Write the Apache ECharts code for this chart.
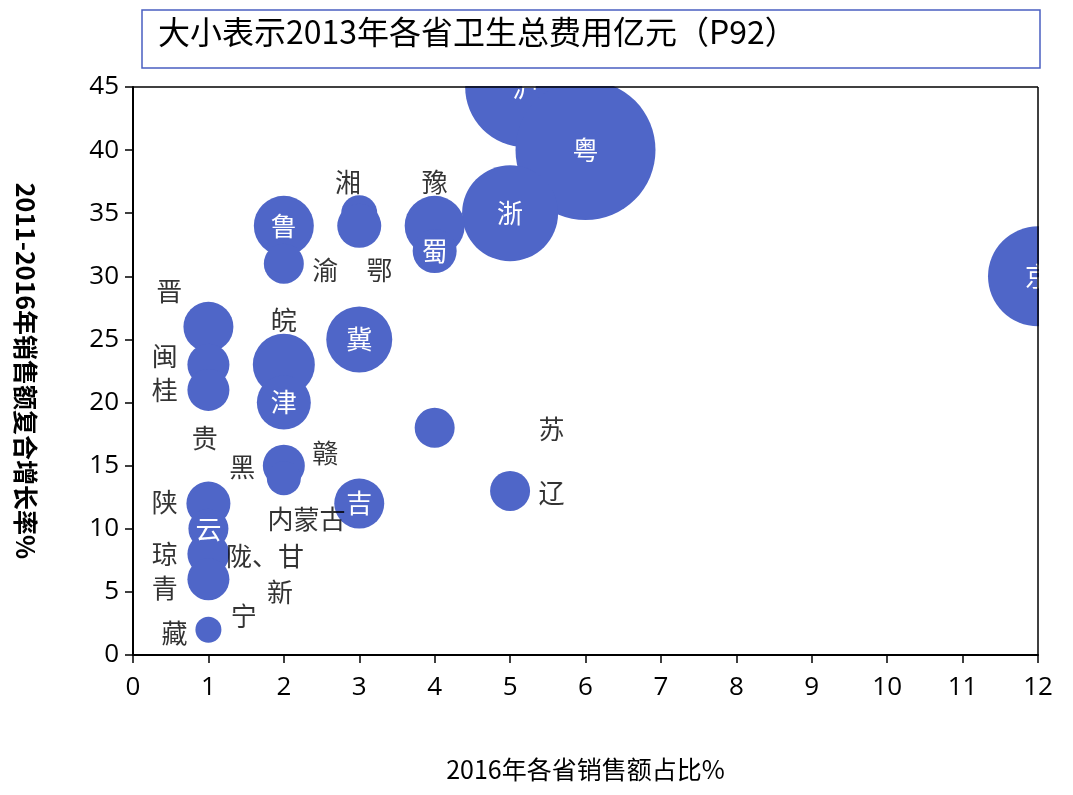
<!DOCTYPE html><html><head><meta charset="utf-8"><script src="https://cdn.jsdelivr.net/npm/echarts@6/dist/echarts.min.js"></script></head><body style="margin:0;background:#fff"><div id="c" style="width:1073px;height:795px"></div><script>
const names=['沪','粤','浙','京','鲁','湘','鄂','豫','蜀','渝','晋','闽','桂','皖','津','冀','苏','辽','赣','黑','吉','陕','云','琼','青','藏'];
const xs=[5.2,6,5,12,2,3,3,4,4,2,1,1,1,2,2,3,4,5,2,2,3,1,1,1,1,1];
const ys=[45,40,35,30,34,35,34,34,32,31,26,23,21,23,20,25,18,13,15,14,12,12,10,8,6,2];
const sizes=[120,140,96,100,60,36,44,60,44,40,50,42,42,62,54,66,40,40,42,34,50,44,40,42,42,26];
const inner=['沪','粤','浙','京','鲁','蜀','冀','津','吉','云'];
const notes=[['湘',2.85,37.5],['豫',4,37.5],['渝',2.55,30.5],['鄂',3.27,30.5],['晋',0.48,28.8],['皖',2,26.5],['闽',0.42,23.7],['桂',0.42,21],['贵',0.95,17.2],['黑',1.45,14.9],['赣',2.55,16],['苏',5.55,17.9],['辽',5.55,12.8],['陕',0.42,12.1],['内蒙古',2.3,10.8],['琼',0.42,8],['陇、甘',1.75,7.8],['青',0.42,5.3],['新',1.95,5],['宁',1.47,3.1],['藏',0.55,1.7]];
const blue='#4f66c8';
const font='Noto Sans CJK SC';
const chart=echarts.init(document.getElementById('c'));
chart.setOption({
 textStyle:{fontFamily:font},
 graphic:[
  {type:'rect',z:10,shape:{x:134,y:0,width:939,height:86},style:{fill:'#fff'}},
  {type:'rect',z:10,shape:{x:1039,y:0,width:40,height:654},style:{fill:'#fff'}},
  {type:'line',z:11,shape:{x1:133,y1:87,x2:1038,y2:87},style:{stroke:'#000',lineWidth:1.5}},
  {type:'line',z:11,shape:{x1:1038,y1:87,x2:1038,y2:655},style:{stroke:'#000',lineWidth:1.5}},
  {type:'rect',z:11,shape:{x:142,y:10,width:898,height:58},style:{fill:'#fff',stroke:'#4a5fc1',lineWidth:1.5}},
  {type:'text',z:12,left:158,top:16,style:{text:'大小表示2013年各省卫生总费用亿元（P92）',font:'32px "Noto Sans CJK SC"',fill:'#000'}}],
 grid:{left:133,right:35,top:87,bottom:140},
 xAxis:{min:0,max:12,interval:1,name:'2016年各省销售额占比%',nameLocation:'middle',nameGap:102,nameTextStyle:{fontSize:25,color:'#000'},
  axisLine:{lineStyle:{color:'#000',width:2}},axisTick:{length:8,lineStyle:{color:'#000',width:1.5}},axisLabel:{fontSize:26,color:'#000',fontFamily:'Open Sans',margin:20},splitLine:{show:false}},
 yAxis:{min:0,max:45,interval:5,name:'2011-2016年销售额复合增长率%',nameLocation:'middle',nameGap:95,nameRotate:-90,nameTextStyle:{fontSize:25,color:'#000',fontWeight:'bold'},
  axisLine:{show:true,lineStyle:{color:'#000',width:2}},axisTick:{show:true,length:8,lineStyle:{color:'#000',width:1.5}},axisLabel:{fontSize:26,color:'#000',fontFamily:'Open Sans',margin:14},splitLine:{show:false}},
 series:[{type:'scatter',clip:true,data:names.map((n,i)=>({name:n,value:[xs[i],ys[i]],symbolSize:sizes[i]})),
   itemStyle:{color:blue,opacity:1},
   label:{show:true,position:'inside',fontSize:26,color:'#fff',formatter:p=>inner.includes(p.name)?p.name:''}},
  {type:'scatter',symbolSize:0,silent:true,data:notes.map(a=>({name:a[0],value:[a[1],a[2]]})),
   label:{show:true,position:'inside',fontSize:26,color:'#000',formatter:p=>p.name}}]
});
</script></body></html>
